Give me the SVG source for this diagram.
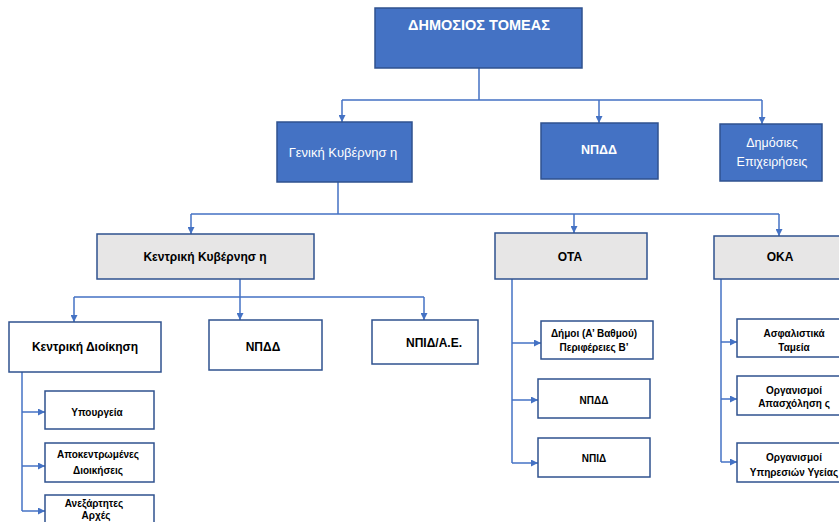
<svg xmlns="http://www.w3.org/2000/svg" width="839" height="522" viewBox="0 0 839 522">
<defs>
<marker id="ah" viewBox="0 0 10 10" refX="10" refY="5" markerWidth="7" markerHeight="7" markerUnits="userSpaceOnUse" orient="auto">
<path d="M0,0 L10,5 L0,10 z" fill="#4472C4"/>
</marker>
<style>
.blue{fill:#4472C4;stroke:#2F528F;stroke-width:1.5}
.gray{fill:#E7E6E6;stroke:#2F528F;stroke-width:1.5}
.white{fill:#FFFFFF;stroke:#2F528F;stroke-width:1.5}
text{font-family:"Liberation Sans",Arial,sans-serif;text-anchor:middle;dominant-baseline:central}
.wt{fill:#FFFFFF}
.bt{fill:#000000;font-weight:bold}
.c{fill:none;stroke:#4472C4;stroke-width:1.5}
.a{fill:none;stroke:#4472C4;stroke-width:1.5;marker-end:url(#ah)}
</style>
</defs>
<rect width="839" height="522" fill="#FFFFFF"/>
<g id="connectors">
<path class="c" d="M479,68 V100 M342,100 H762"/>
<path class="a" d="M342,100 V122"/>
<path class="a" d="M599,100 V123"/>
<path class="a" d="M762,100 V124"/>
<path class="c" d="M338,182 V214 M191,214 H779"/>
<path class="a" d="M191,214 V234"/>
<path class="a" d="M574,214 V233"/>
<path class="a" d="M779,214 V236"/>
<path class="c" d="M240,279 V297 M74,297 H424"/>
<path class="a" d="M74,297 V322"/>
<path class="a" d="M240,297 V320"/>
<path class="a" d="M424,297 V320"/>
<path class="c" d="M22,372 V511"/>
<path class="a" d="M22,412 H45"/>
<path class="a" d="M22,466 H45"/>
<path class="a" d="M22,511 H45"/>
<path class="c" d="M512,279 V463"/>
<path class="a" d="M512,343 H541"/>
<path class="a" d="M512,400 H538"/>
<path class="a" d="M512,463 H538"/>
<path class="c" d="M721,279 V462"/>
<path class="a" d="M721,342 H737"/>
<path class="a" d="M721,399 H737"/>
<path class="a" d="M721,462 H737"/>
</g>
<g id="dimosios-tomeas">
<rect class="blue" x="375" y="8" width="207" height="60"/>
<text class="wt" x="479" y="25" font-size="14.5" font-weight="bold">ΔΗΜΟΣΙΟΣ ΤΟΜΕΑΣ</text>
</g>
<g id="geniki-kyvernisi">
<rect class="blue" x="277" y="122" width="135" height="60"/>
<text class="wt" x="343" y="152" font-size="13">Γενική Κυβέρνησ η</text>
</g>
<g id="npdd-top">
<rect class="blue" x="541" y="123" width="117" height="56"/>
<text class="wt" x="599" y="150" font-size="12.5" font-weight="bold">ΝΠΔΔ</text>
</g>
<g id="dimosies-epixeiriseis">
<rect class="blue" x="720" y="124" width="102" height="57"/>
<text class="wt" x="772" y="143" font-size="12.5">Δημόσιες</text>
<text class="wt" x="772" y="162" font-size="12.5">Επιχειρήσεις</text>
</g>
<g id="kentriki-kyvernisi">
<rect class="gray" x="97" y="234" width="217" height="45"/>
<text class="bt" x="205" y="257" font-size="12">Κεντρική Κυβέρνησ η</text>
</g>
<g id="ota">
<rect class="gray" x="495" y="233" width="152" height="46"/>
<text class="bt" x="570" y="257" font-size="12">ΟΤΑ</text>
</g>
<g id="oka">
<rect class="gray" x="714" y="236" width="134" height="43"/>
<text class="bt" x="780" y="257" font-size="12">ΟΚΑ</text>
</g>
<g id="kentriki-dioikisi">
<rect class="white" x="9" y="322" width="152" height="50"/>
<text class="bt" x="85" y="347" font-size="12">Κεντρική Διοίκηση</text>
</g>
<g id="npdd-kk">
<rect class="white" x="209" y="320" width="113" height="50"/>
<text class="bt" x="263" y="347" font-size="12">ΝΠΔΔ</text>
</g>
<g id="npid-ae">
<rect class="white" x="372" y="320" width="106" height="44"/>
<text class="bt" x="434" y="343" font-size="12">ΝΠΙΔ/Α.Ε.</text>
</g>
<g id="ypourgeia">
<rect class="white" x="45" y="391" width="109" height="38"/>
<text class="bt" x="97" y="412" font-size="10">Υπουργεία</text>
</g>
<g id="apokentromenes">
<rect class="white" x="45" y="443" width="109" height="39"/>
<text class="bt" x="98" y="454" font-size="10">Αποκεντρωμένες</text>
<text class="bt" x="98" y="470" font-size="10">Διοικήσεις</text>
</g>
<g id="anexartites">
<rect class="white" x="45" y="495" width="109" height="40"/>
<text class="bt" x="94" y="503" font-size="10">Ανεξάρτητες</text>
<text class="bt" x="96" y="515" font-size="10">Αρχές</text>
</g>
<g id="dimoi">
<rect class="white" x="541" y="321" width="112" height="38"/>
<text class="bt" x="594" y="333" font-size="10">Δήμοι (Α’ Βαθμού)</text>
<text class="bt" x="594" y="347" font-size="10">Περιφέρειες Β’</text>
</g>
<g id="npdd-ota">
<rect class="white" x="538" y="379" width="112" height="39"/>
<text class="bt" x="594" y="400" font-size="10">ΝΠΔΔ</text>
</g>
<g id="npid-ota">
<rect class="white" x="538" y="438" width="112" height="39"/>
<text class="bt" x="594" y="458" font-size="10">ΝΠΙΔ</text>
</g>
<g id="asfalistika">
<rect class="white" x="737" y="319" width="114" height="38"/>
<text class="bt" x="794" y="333" font-size="10">Ασφαλιστικά</text>
<text class="bt" x="794" y="347" font-size="10">Ταμεία</text>
</g>
<g id="apasxolisis">
<rect class="white" x="737" y="376" width="114" height="39"/>
<text class="bt" x="794" y="390" font-size="10">Οργανισμοί</text>
<text class="bt" x="794" y="403" font-size="10">Απασχόληση ς</text>
</g>
<g id="ygeias">
<rect class="white" x="737" y="443" width="114" height="39"/>
<text class="bt" x="794" y="457" font-size="10">Οργανισμοί</text>
<text class="bt" x="794" y="472" font-size="10">Υπηρεσιών Υγείας</text>
</g>
</svg>
